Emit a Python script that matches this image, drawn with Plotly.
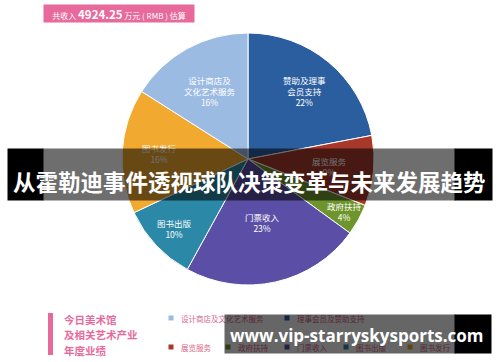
import math
import plotly.graph_objects as go

# ---------------- data ----------------
slice_labels = ["赞助及理事<br>会员支持", "展览服务", "政府扶持", "门票收入", "图书出版", "图书发行", "设计商店及<br>文化艺术服务"]
slice_values = [22, 9, 4, 23, 10, 16, 16]
slice_colors = ["#2b5e9f", "#a8382a", "#6e952c", "#5a4ea6", "#2b89a7", "#f1a92f", "#9cbbe3"]
label_radius = [0.70, 0.65, 0.87, 0.52, 0.80, 0.70, 0.62]

legend_names = ["设计商店及文化艺术服务", "理事会员及赞助支持", "展览服务", "政府扶持", "门票收入", "图书出版", "图书发行"]
legend_colors = ["#9cbbe3", "#2b5e9f", "#a8382a", "#6e952c", "#5a4ea6", "#2b89a7", "#f1a92f"]
legend_pos = [(171, 318), (287, 318), (171, 347), (228, 347), (287, 347), (346, 347), (410, 347)]

total_text = "4924.25"
title_text = "从霍勒迪事件透视球队决策变革与未来发展趋势"
side_lines = ["今日美术馆", "及相关艺术产业", "年度业绩"]
watermark = "www.vip-starryskysports.com"

W, H = 500, 362
CX, CY, R = 248, 159, 126
CJK = "Noto Sans CJK SC"
PINK = "#e8699c"


def X(p):
    return p / W


def Y(p):
    return 1 - p / H


fig = go.Figure()
fig.add_trace(go.Pie(
    values=slice_values, labels=slice_labels, marker=dict(colors=slice_colors, line=dict(color="white", width=1)),
    sort=False, direction="clockwise", rotation=0, textinfo="none", hoverinfo="skip", showlegend=False,
    domain=dict(x=[X(CX - R), X(CX + R)], y=[Y(CY + R), Y(CY - R)]),
))

ann = []
shapes = []

# pie labels
total = sum(slice_values)
cum = 0
for lab, v, f in zip(slice_labels, slice_values, label_radius):
    mid = (cum + v / 2) / total * 2 * math.pi
    cum += v
    px = CX + math.sin(mid) * f * R
    py = CY - math.cos(mid) * f * R
    ann.append(dict(x=X(px), y=Y(py), xref="paper", yref="paper", showarrow=False,
                    text=f"{lab}<br>{v}%", font=dict(family=CJK, size=8.5, color="white"),
                    xanchor="center", yanchor="middle"))

# header
ann.append(dict(x=X(119), y=Y(13.5), xref="paper", yref="paper", showarrow=False,
                text=f"共收入 <b><span style='font-size:11.5px'>{total_text}</span></b> 万元 ( RMB ) 估算",
                font=dict(family=CJK, size=8, color="white"), bgcolor=PINK, width=150, height=17, borderpad=0,
                xanchor="center", yanchor="middle"))

# left side title
shapes.append(dict(type="rect", xref="paper", yref="paper", x0=X(48), x1=X(53), y0=Y(355), y1=Y(313),
                   fillcolor=PINK, line=dict(width=0)))
for i, s in enumerate(side_lines):
    ann.append(dict(x=X(62), y=Y(319 + i * 15.5), xref="paper", yref="paper", showarrow=False,
                    text=f"<b>{s}</b>", font=dict(family=CJK, size=10.5, color=PINK),
                    xanchor="left", yanchor="middle"))

# legend
for name, col, (lx, ly) in zip(legend_names, legend_colors, legend_pos):
    shapes.append(dict(type="rect", xref="paper", yref="paper", x0=X(lx - 2.5), x1=X(lx + 2.5),
                       y0=Y(ly + 2.5), y1=Y(ly - 2.5), fillcolor=col, line=dict(width=0)))
    ann.append(dict(x=X(lx + 8), y=Y(ly), xref="paper", yref="paper", showarrow=False,
                    text=name, font=dict(family=CJK, size=7.5, color="#d8668a"),
                    xanchor="left", yanchor="middle"))


def box(x0, x1, y0, y1, color):
    ann.append(dict(x=X((x0 + x1) / 2), y=Y((y0 + y1) / 2), xref="paper", yref="paper", showarrow=False,
                    text=" ", width=x1 - x0, height=y1 - y0, bgcolor=color, borderpad=0,
                    xanchor="center", yanchor="middle"))


# banner overlay
box(43, 455, 149, 200, "rgba(0,0,0,0.57)")
box(8, 43, 149, 200, "black")
box(455, 492, 149, 200, "black")
ann.append(dict(x=X(249.5), y=Y(181), xref="paper", yref="paper", showarrow=False,
                text=f"<b>{title_text}</b>", font=dict(family=CJK, size=22.5, color="white"),
                xanchor="center", yanchor="middle"))

# watermark overlay
box(225, 455, 315, 353, "rgba(0,0,0,0.6)")
box(455, 491, 315, 353, "black")
ann.append(dict(x=X(357), y=Y(335), xref="paper", yref="paper", showarrow=False,
                text=f"<b>{watermark}</b>", font=dict(family="Open Sans", size=17, color="white"),
                xanchor="center", yanchor="middle"))

fig.update_layout(width=W, height=H, margin=dict(l=0, r=0, t=0, b=0), paper_bgcolor="white",
                  plot_bgcolor="white", annotations=ann, shapes=shapes, showlegend=False)
fig.write_html("out.html", config={"displayModeBar": False, "staticPlot": True},
               post_script="document.body.style.margin='0';document.body.style.overflow='hidden';")
